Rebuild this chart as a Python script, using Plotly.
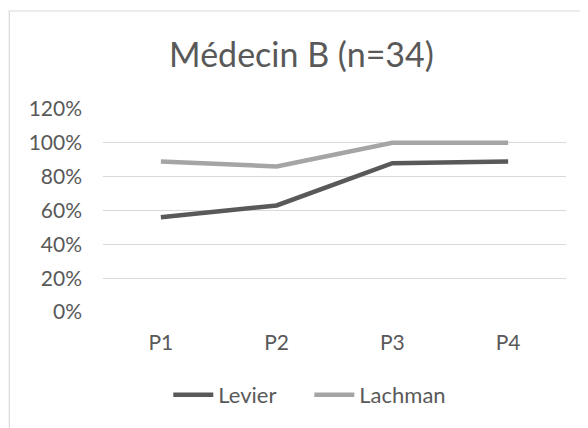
import plotly.graph_objects as go

categories = ["P1", "P2", "P3", "P4"]
levier = [0.56, 0.63, 0.88, 0.89]
lachman = [0.89, 0.86, 1.00, 1.00]
y_ticks = [0, 0.2, 0.4, 0.6, 0.8, 1.0, 1.2]
y_ticktext = ["0%", "20%", "40%", "60%", "80%", "100%", "120%"]

# page has an 8px body margin: figure coords = page coords - 8
OFF = 8
W, H = 580, 420
L, R, T, B = 102.7 - OFF, W - (565.7 - OFF), 109 - OFF, H - (312 - OFF)
pw, ph = W - L - R, H - T - B

FONT = "Lato"
TXT = "#595959"

fig = go.Figure()
fig.add_trace(go.Scatter(x=categories, y=levier, name="Levier", mode="lines",
                         line=dict(color="#595959", width=4.5)))
fig.add_trace(go.Scatter(x=categories, y=lachman, name="Lachman", mode="lines",
                         line=dict(color="#A5A5A5", width=4.5)))

def px_x(v):  # page x -> paper x
    return (v - OFF - L) / pw
def px_y(v):  # page y -> paper y
    return (H - B - (v - OFF)) / ph

# outer chart border (light grey frame)
fig.add_shape(type="rect", xref="paper", yref="paper",
              x0=px_x(9), x1=px_x(620), y0=px_y(11), y1=px_y(460),
              line=dict(color="#D9D9D9", width=1.2), fillcolor="rgba(0,0,0,0)",
              layer="below")

fig.update_layout(
    width=W, height=H,
    margin=dict(l=L, r=R, t=T, b=B),
    paper_bgcolor="white", plot_bgcolor="white",
    font=dict(family=FONT, color=TXT),
    title=dict(text="Médecin B (n=34)", x=(301.5 - OFF) / W, xanchor="center",
               xref="container", yref="container", y=1 - (55 - OFF) / H, yanchor="middle",
               font=dict(family=FONT, size=34, color=TXT)),
    showlegend=True,
    legend=dict(orientation="h", x=px_x(168), xanchor="left",
                yref="container", y=1 - (395 - OFF) / H, yanchor="middle",
                font=dict(family=FONT, size=22, color=TXT),
                itemwidth=40, entrywidth=86, bgcolor="rgba(0,0,0,0)"),
    xaxis=dict(range=[-0.5, 3.5], showgrid=False, zeroline=False, showline=False,
               ticks="", tickfont=dict(family=FONT, size=21, color=TXT),
               ticklabelstandoff=16, fixedrange=True),
    yaxis=dict(range=[0, 1.2], tickvals=y_ticks, ticktext=y_ticktext,
               showgrid=True, gridcolor="#D9D9D9", gridwidth=1.3,
               zeroline=False, showline=False, ticks="",
               tickfont=dict(family=FONT, size=21, color=TXT),
               ticklabelstandoff=20, fixedrange=True),
)

fig.write_html("out.html")
